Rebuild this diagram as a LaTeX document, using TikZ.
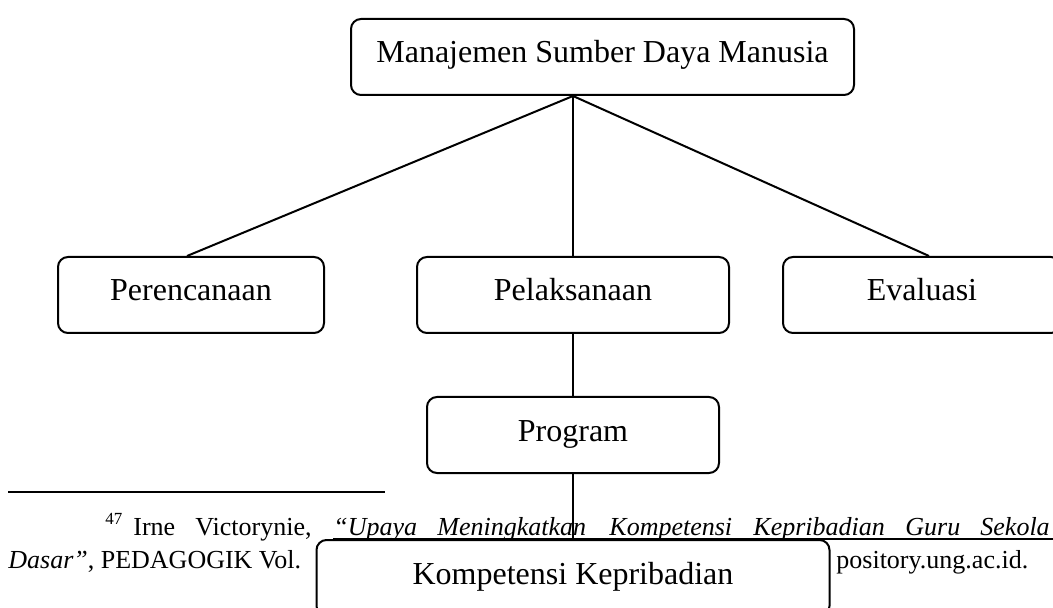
\documentclass[tikz,border=0pt]{standalone}
\usepackage{fontspec}
\setmainfont{Liberation Serif}
\begin{document}
\begin{tikzpicture}[x=0.5pt,y=-0.5pt,
  box/.style={draw, line width=1pt, rounded corners=5pt, fill=white, inner sep=0pt,
    minimum height=38pt, text height=22pt, text depth=16pt,
    font=\fontsize{16pt}{19pt}\selectfont},
  fn/.style={anchor=base west, inner sep=0pt, font=\fontsize{13pt}{15pt}\selectfont},
  supfn/.style={anchor=base west, inner sep=0pt, font=\fontsize{8.5pt}{10pt}\selectfont},
  link/.style={line width=1pt},
  fnrule/.style={line width=1pt},
  uline/.style={line width=0.7pt}]
\useasboundingbox (0,0) rectangle (1053,608);
\clip (0,0) rectangle (1053,608);

% footnote
\draw[fnrule] (8,492) -- (385,492);
\node[supfn] (n47) at (105,524) {47};
\node[fn] (w1) at (133,535) {Irne};
\node[fn] (w2) at (195,535) {Victorynie,};
\node[fn] (w3) at (333,535) {\itshape “Upaya};
\node[fn] (w4) at (437,535) {\itshape Meningkatkan};
\node[fn] (w5) at (609,535) {\itshape Kompetensi};
\node[fn] (w6) at (753,535) {\itshape Kepribadian};
\node[fn] (w7) at (905,535) {\itshape Guru};
\node[fn] (w8) at (980,535) {\itshape Sekola};
\coordinate (ulend) at (1053,539);
\draw[uline] ([yshift=-2pt]w3.base west) -- (ulend);
\node[fn] (l2a) at (8,568) {\itshape Dasar”\upshape, PEDAGOGIK Vol.};
\node[fn] (l2b) at (836,568) {pository.ung.ac.id.};

% boxes
\node[box, minimum width=251.5pt] (msdm) at (602.5,57) {Manajemen Sumber Daya Manusia};
\node[box, minimum width=133pt] (per) at (191,295) {Perencanaan};
\node[box, minimum width=156pt] (pel) at (573,295) {Pelaksanaan};
\node[box, minimum width=139pt] (eva) at (922,295) {Evaluasi};
\node[box, minimum width=146pt] (prog) at (573,435) {Program};
\node[box, minimum width=256.5pt] (komp) at (573,578) {Kompetensi Kepribadian};

% connectors
\coordinate (hub) at (msdm.south -| pel.north);
\draw[link] (hub) -- ([xshift=-2pt]per.north);
\draw[link] (hub) -- (pel.north);
\draw[link] (hub) -- ([xshift=3.5pt]eva.north);
\draw[link] (pel.south) -- (prog.north);
\draw[link] (prog.south) -- (komp.north);
\end{tikzpicture}
\end{document}
